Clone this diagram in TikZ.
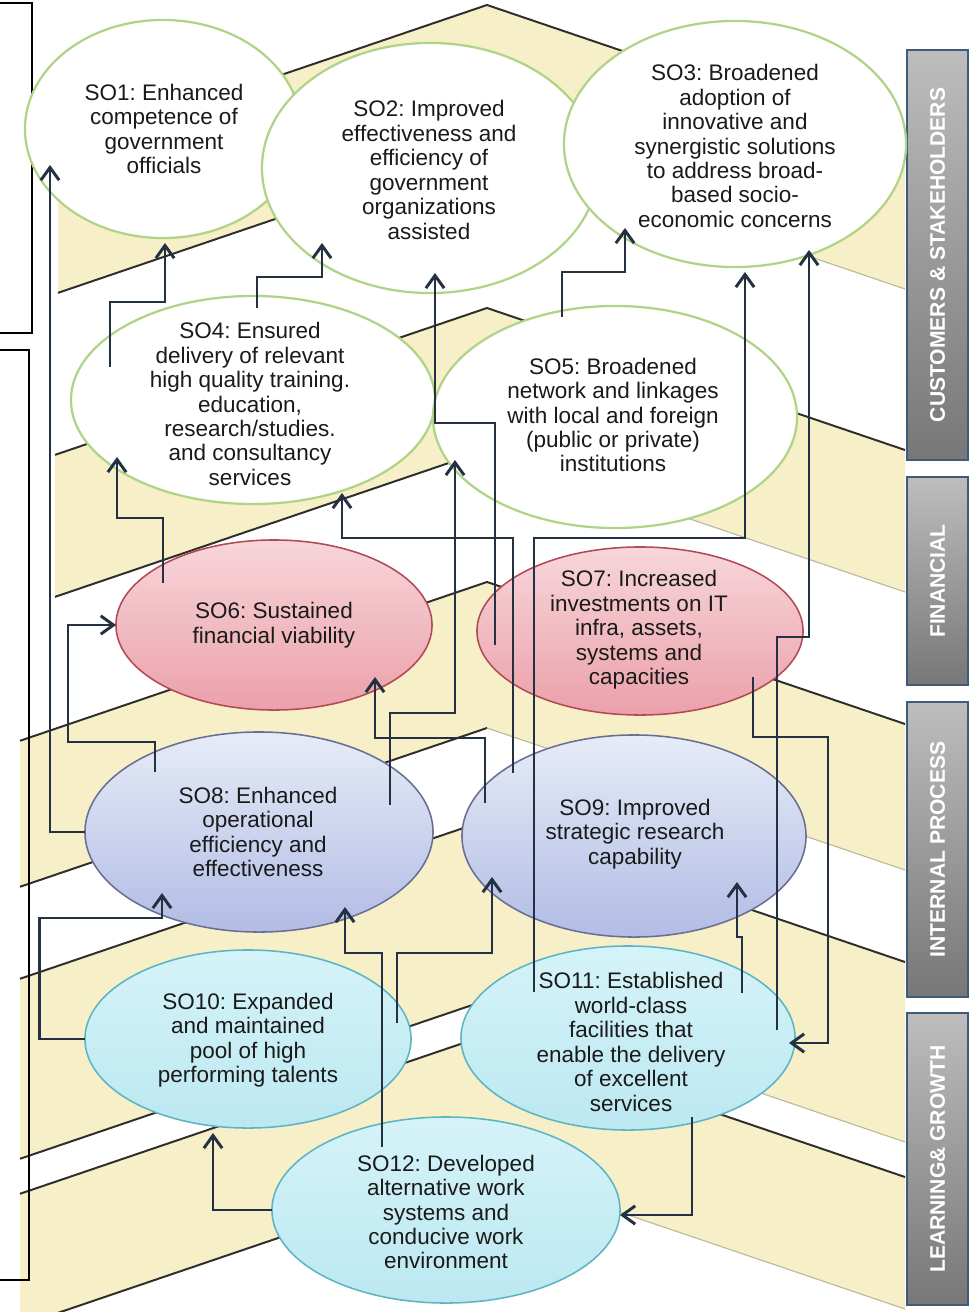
\documentclass[tikz,border=0pt]{standalone}
\usepackage{fontspec}
\setmainfont{Liberation Sans}
\usetikzlibrary{arrows.meta,calc,shapes.geometric}
\frenchspacing
\definecolor{ConnC}{HTML}{243142}
\definecolor{BandF}{HTML}{F6EFC8}
\definecolor{EdgeD}{HTML}{2E2E2A}
\definecolor{EdgeL}{HTML}{BDB89A}
\definecolor{GrnB}{HTML}{B0D487}
\definecolor{GrnF}{HTML}{DDEFC2}
\definecolor{RedB}{HTML}{B24A56}
\definecolor{RedT}{HTML}{F7D6DA}
\definecolor{RedD}{HTML}{EBA0AA}
\definecolor{BluB}{HTML}{6A6E92}
\definecolor{BluT}{HTML}{E6ECF7}
\definecolor{BluD}{HTML}{B2BCE5}
\definecolor{CyB}{HTML}{5BB5C2}
\definecolor{CyT}{HTML}{D5F3F8}
\definecolor{CyD}{HTML}{BCE8F1}
\definecolor{BarB}{HTML}{3D5C7A}
\definecolor{BarL}{HTML}{BDBDBD}
\definecolor{BarR}{HTML}{777777}
\definecolor{TxtC}{HTML}{1A1A1A}
\pgfdeclareradialshading{soglow}{\pgfpoint{0bp}{0bp}}{color(0bp)=(white); color(33bp)=(white); color(50bp)=(GrnF); color(100bp)=(GrnF)}
\begin{document}
\begin{tikzpicture}[x=0.025cm,y=-0.025cm,
  so/.style 2 args={ellipse, inner sep=0pt, outer sep=0pt, minimum width={#1*0.05cm}, minimum height={#2*0.05cm}},
  gso/.style={draw=GrnB, line width=1.6pt, shading=soglow},
  rso/.style={draw=RedB, line width=1.1pt, top color=RedT, bottom color=RedD},
  bso/.style={draw=BluB, line width=1.1pt, top color=BluT, bottom color=BluD},
  cso/.style={draw=CyB, line width=1.1pt, top color=CyT, bottom color=CyD},
  sotxt/.style={align=center, inner sep=0pt, text=TxtC, font=\fontsize{16pt}{17.4pt}\selectfont},
  link/.style={draw=ConnC, line width=2.1pt, -{Straight Barb[length=9pt,width=13pt]}},
  bar/.style={draw=BarB, line width=1.2pt, top color=BarL, bottom color=BarR, rotate=90, inner sep=0pt, text=white, font=\bfseries\fontsize{15pt}{15pt}\selectfont},
  dedge/.style={draw=EdgeD, line width=1.4pt},
  ledge/.style={draw=EdgeL, line width=0.8pt},
  boxln/.style={draw=black, line width=1.3pt}
]
\useasboundingbox (0,0) rectangle (974,1312);
\fill[white] (0,0) rectangle (974,1312);

% background chevron bands
\begin{scope}
\clip (0,0) rectangle (974,1312);
\foreach \yt/\yb/\xl in {5/147/58,308/450/55,582/728/20,820/1000/20,1035/1167/20}{
  \pgfmathsetmacro\bTL{\yt+0.34*(487-\xl)}
  \pgfmathsetmacro\bBL{\yb+0.34*(487-\xl)}
  \pgfmathsetmacro\bTR{\yt+142}
  \pgfmathsetmacro\bBR{\yb+142}
  \fill[BandF] (\xl,\bTL) -- (487,\yt) -- (905,\bTR) -- (905,\bBR) -- (487,\yb) -- (\xl,\bBL) -- cycle;
  \draw[dedge] (\xl,\bTL) -- (487,\yt) -- (905,\bTR);
  \draw[dedge] (\xl,\bBL) -- (487,\yb);
  \draw[ledge] (487,\yb) -- (905,\bBR);
}
\end{scope}

% left frame fragments
\draw[boxln] (0,3) -- (32,3) -- (32,333) -- (0,333);
\draw[boxln] (0,350) -- (29,350) -- (29,1280) -- (0,1280);

% perspective bars
\node[bar, minimum width={410*0.025cm}, minimum height={61*0.025cm}] (B1) at (937.5,255) {CUSTOMERS \& STAKEHOLDERS};
\node[bar, minimum width={208*0.025cm}, minimum height={61*0.025cm}] (B2) at (937.5,581) {FINANCIAL};
\node[bar, minimum width={295*0.025cm}, minimum height={61*0.025cm}] (B3) at (937.5,849.5) {INTERNAL PROCESS};
\node[bar, minimum width={292*0.025cm}, minimum height={61*0.025cm}] (B4) at (937.5,1159) {LEARNING\& GROWTH};

% objectives
\node[so={138}{109}, gso] (SO1) at (163,129) {};
\node[so={168}{125}, gso] (SO2) at (430,168) {};
\node[so={171}{123}, gso] (SO3) at (735,144) {};
\node[so={182}{104}, gso] (SO4) at (253,400) {};
\node[so={182}{111}, gso] (SO5) at (615,417) {};
\node[so={158}{85}, rso] (SO6) at (274,625) {};
\node[so={163}{84}, rso] (SO7) at (640,631) {};
\node[so={174}{100}, bso] (SO8) at (259,832) {};
\node[so={172}{101}, bso] (SO9) at (634,836) {};
\node[so={163}{89}, cso] (SO10) at (248,1039) {};
\node[so={167}{92}, cso] (SO11) at (628,1038) {};
\node[so={174}{93}, cso] (SO12) at (446,1210) {};

\node[sotxt] (T1) at ($(SO1)+(1,0)$) {SO1: Enhanced\\competence of\\government\\officials};
\node[sotxt] (T2) at ($(SO2)+(-1,2)$) {SO2: Improved\\effectiveness and\\efficiency of\\government\\organizations\\assisted};
\node[sotxt] (T3) at ($(SO3)+(0,2)$) {SO3: Broadened\\adoption of\\innovative and\\synergistic solutions\\to address broad-\\based socio-\\economic concerns};
\node[sotxt] (T4) at ($(SO4)+(-3,4)$) {SO4: Ensured\\delivery of relevant\\high quality training.\\education,\\research/studies.\\and consultancy\\services};
\node[sotxt] (T5) at ($(SO5)+(-2,-2)$) {SO5: Broadened\\network and linkages\\with local and foreign\\(public or private)\\institutions};
\node[sotxt] (T6) at (SO6) {SO6: Sustained\\financial viability};
\node[sotxt] (T7) at ($(SO7)+(-1,-1)$) {SO7: Increased\\investments on IT\\infra, assets,\\systems and\\capacities};
\node[sotxt] (T8) at ($(SO8)+(-1,0)$) {SO8: Enhanced\\operational\\efficiency and\\effectiveness};
\node[sotxt] (T9) at ($(SO9)+(1,-2)$) {SO9: Improved\\strategic research\\capability};
\node[sotxt] (T10) at ($(SO10)+(0,1)$) {SO10: Expanded\\and maintained\\pool of high\\performing talents};
\node[sotxt] (T11) at ($(SO11)+(3,4)$) {SO11: Established\\world-class\\facilities that\\enable the delivery\\of excellent\\services};
\node[sotxt] (T12) at ($(SO12)+(0,2)$) {SO12: Developed\\alternative work\\systems and\\conducive work\\environment};

% causal links
\draw[link] ($(SO4)+(-143,-33)$) -- ++(0,-65) -| ($(SO1)+(2,114)$);
\draw[link] (SO8.west) -| ($(SO1)+(-113,36)$);
\draw[link] ($(SO4)+(4,-92)$) -- ++(0,-31) -| ($(SO2)+(-108,75)$);
\draw[link] ($(SO7)+(-145,14)$) -- ++(0,-222) -| ($(SO2)+(5,105)$);
\draw[link] ($(SO5)+(-53,-100)$) -- ++(0,-45) -| ($(SO3)+(-110,84)$);
\draw[link] ($(SO11)+(-94,-46)$) -- ++(0,-454) -| ($(SO3)+(10,128)$);
\draw[link] ($(SO11)+(149,-8)$) -- ++(0,-393) -| ($(SO3)+(74,106)$);
\draw[link] ($(SO6)+(-111,-42)$) -- ++(0,-65) -| ($(SO4)+(-136,57)$);
\draw[link] ($(SO9)+(-121,-63)$) -- ++(0,-235) -| ($(SO4)+(89,93)$);
\draw[link] ($(SO8)+(131,-27)$) -- ++(0,-92) -| ($(SO5)+(-160,43)$);
\draw[link] ($(SO8)+(-104,-60)$) -- ++(0,-30) -- ++(-87,0) |- (SO6.west);
\draw[link] ($(SO9)+(-149,-33)$) -- ++(0,-65) -| ($(SO6)+(101,52)$);
\draw[link] (SO10.west) -- ++(-45,0) -- ++(0,-121) -| ($(SO8)+(-97,61)$);
\draw[link] ($(SO12)+(-64,-63)$) -- ++(0,-194) -| ($(SO8)+(86,75)$);
\draw[link] ($(SO10)+(149,-16)$) -- ++(0,-70) -| ($(SO9)+(-142,41)$);
\draw[link] ($(SO11)+(114,-45)$) -- ++(0,-56) -| ($(SO9)+(103,46)$);
\draw[link] (SO12.west) -| ($(SO10)+(-35,94)$);
\draw[link] ($(SO7)+(113,46)$) -- ++(0,60) -- ++(75,0) |- ($(SO11)+(161,5)$);
\draw[link] ($(SO11)+(64,79)$) |- ($(SO12)+(174,5)$);
\end{tikzpicture}
\end{document}
